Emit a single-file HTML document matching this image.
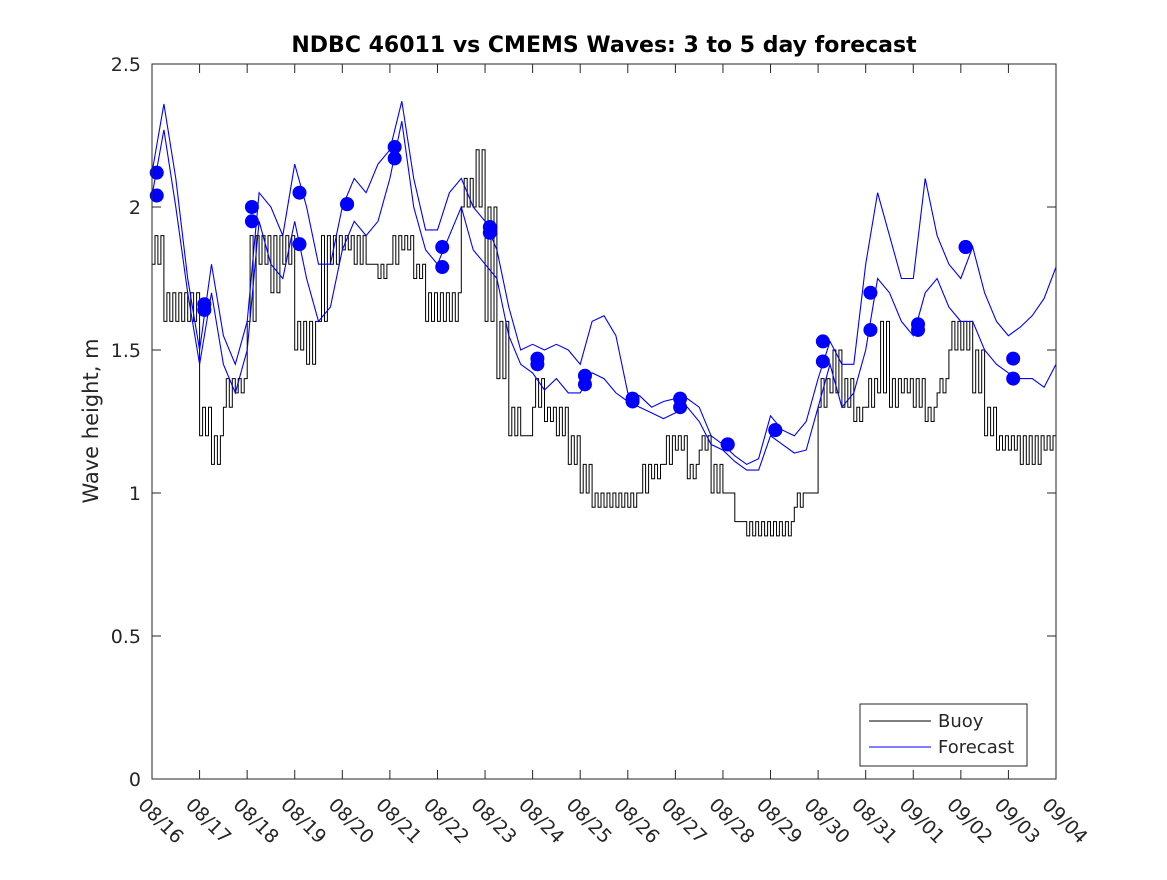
<!DOCTYPE html>
<html><head><meta charset="utf-8"><style>
html,body{margin:0;padding:0;background:#fff;}
svg text{font-family:"DejaVu Sans","Liberation Sans",sans-serif;fill:#262626;}
</style></head><body>
<svg id="chart" width="1167" height="875" viewBox="0 0 1167 875" xmlns="http://www.w3.org/2000/svg">
<rect x="0" y="0" width="1167" height="875" fill="#fff"/>
<text x="604" y="52" text-anchor="middle" font-size="22" font-weight="bold" style="fill:#000">NDBC 46011 vs CMEMS Waves: 3 to 5 day forecast</text>
<text transform="translate(98,421) rotate(-90)" text-anchor="middle" font-size="21">Wave height, m</text>
<g id="plot"></g>
<g id="axes"></g>
<g>
<rect x="860" y="704" width="167" height="62" fill="#fff" stroke="#262626" stroke-width="1"/>
<line x1="869" y1="721" x2="931" y2="721" stroke="#000" stroke-width="1"/>
<text x="938" y="727" font-size="18">Buoy</text>
<line x1="869" y1="747" x2="931" y2="747" stroke="#0000ff" stroke-width="1"/>
<text x="938" y="753" font-size="18">Forecast</text>
</g>
</svg>
<script>
const xTickLabels=["08/16","08/17","08/18","08/19","08/20","08/21","08/22","08/23","08/24","08/25","08/26","08/27","08/28","08/29","08/30","08/31","09/01","09/02","09/03","09/04"];
const yTicks=[0,0.5,1,1.5,2,2.5];
const yTickLabels=["0","0.5","1","1.5","2","2.5"];
// buoy, quarter-day samples starting 08/16 (base and noisy peak)
const buoyValues=[1.8,1.6,1.6,1.6, 1.2,1.1,1.3,1.35, 1.6,1.8,1.7,1.8, 1.5,1.45,1.6,1.8, 1.85,1.8,1.8,1.75, 1.8,1.85,1.75,1.6, 1.6,1.6,2.0,2.0, 1.6,1.4,1.2,1.2, 1.3,1.25,1.2,1.1, 1.0,0.95,0.95,0.95, 0.95,1.0,1.05,1.1, 1.15,1.05,1.15,1.0, 1.0,0.9,0.85,0.85, 0.85,0.85,0.95,1.0, 1.3,1.35,1.3,1.25, 1.3,1.35,1.3,1.35, 1.3,1.25,1.35,1.5, 1.5,1.35,1.2,1.15, 1.15,1.1,1.1,1.15];
const buoyHigh=[1.9,1.7,1.7,1.7, 1.3,1.2,1.4,1.4, 1.9,1.9,1.9,1.9, 1.6,1.6,1.9,1.9, 1.9,1.9,1.8,1.8, 1.9,1.9,1.8,1.7, 1.7,1.7,2.1,2.2, 2.0,1.6,1.3,1.2, 1.4,1.3,1.3,1.2, 1.1,1.0,1.0,1.0, 1.0,1.1,1.1,1.2, 1.2,1.1,1.2,1.1, 1.0,0.9,0.9,0.9, 0.9,0.9,1.0,1.0, 1.4,1.5,1.4,1.3, 1.4,1.6,1.4,1.4, 1.4,1.3,1.4,1.6, 1.6,1.5,1.3,1.2, 1.2,1.2,1.2,1.2];
// forecast, quarter-day samples
const forecastUpper=[2.12,2.36,2.1,1.75,1.5,1.8,1.55,1.45,1.6,2.05,2.0,1.9,2.15,2.0,1.8,1.8,2.0,2.1,2.05,2.15,2.2,2.37,2.1,1.92,1.92,2.05,2.1,2.0,1.95,1.85,1.65,1.5,1.52,1.5,1.52,1.5,1.45,1.6,1.62,1.55,1.35,1.34,1.3,1.32,1.33,1.33,1.3,1.2,1.17,1.13,1.1,1.12,1.27,1.22,1.2,1.25,1.4,1.53,1.45,1.45,1.8,2.05,1.9,1.75,1.75,2.1,1.9,1.8,1.75,1.86,1.7,1.6,1.55,1.58,1.62,1.68,1.79];
const forecastLower=[2.04,2.27,2.0,1.7,1.45,1.7,1.45,1.35,1.5,1.95,1.8,1.75,1.95,1.75,1.6,1.65,1.85,1.95,1.9,1.95,2.1,2.3,2.0,1.85,1.8,1.9,2.0,1.85,1.8,1.75,1.55,1.45,1.42,1.36,1.4,1.35,1.35,1.42,1.4,1.35,1.32,1.3,1.28,1.26,1.28,1.3,1.25,1.17,1.15,1.11,1.08,1.08,1.2,1.17,1.14,1.15,1.3,1.45,1.3,1.35,1.5,1.75,1.7,1.6,1.55,1.7,1.75,1.65,1.6,1.6,1.5,1.45,1.42,1.4,1.4,1.37,1.45];
const dotDays=[0.1,1.1,2.1,3.1,4.1,5.1,6.1,7.1,8.1,9.1,10.1,11.1,12.1,13.1,14.1,15.1,16.1,17.1,18.1];
const dotValuesA=[2.12,1.66,2.0,2.05,2.01,2.21,1.86,1.93,1.47,1.41,1.33,1.33,1.17,1.22,1.53,1.70,1.59,1.86,1.47];
const dotValuesB=[2.04,1.64,1.95,1.87,2.01,2.17,1.79,1.91,1.45,1.38,1.32,1.30,1.17,1.22,1.46,1.57,1.57,1.86,1.40];

const X0=152,X1=1056,Y0=779,Y1=64,NS="http://www.w3.org/2000/svg";
function xs(d){return X0+(X1-X0)*d/19;}
function ys(v){return Y0-(Y0-Y1)*v/2.5;}
const plot=document.getElementById('plot'),axes=document.getElementById('axes');
function mk(tag,attrs,parent){const e=document.createElementNS(NS,tag);for(const k in attrs)e.setAttribute(k,attrs[k]);parent.appendChild(e);return e;}

// buoy noisy step line: within each bin alternate between base and peak
let bp='';
buoyValues.forEach((v,i)=>{
  const h=buoyHigh[i];const n=h>v?4:1;
  for(let k=0;k<n;k++){
    const xa=xs(i*0.25+k*0.25/n),xb=xs(i*0.25+(k+1)*0.25/n);
    const val=(k%2===1)?h:v;
    bp+=((i||k)?'L':'M')+xa.toFixed(1)+','+ys(val).toFixed(1)+'L'+xb.toFixed(1)+','+ys(val).toFixed(1);
  }
});
const buoy=mk('path',{d:bp,fill:'none',stroke:'#000','stroke-width':1},plot);



function fline(arr,name){let p='';arr.forEach((v,i)=>{p+=(i?'L':'M')+xs(i*0.25).toFixed(1)+','+ys(v).toFixed(1);});
const e=mk('path',{d:p,fill:'none',stroke:'#0000ff','stroke-width':1.1},plot);

}
fline(forecastUpper,'forecast-line-upper');
fline(forecastLower,'forecast-line-lower');

dotDays.forEach((d,i)=>{
const a=mk('circle',{cx:xs(d),cy:ys(dotValuesA[i]),r:7,fill:'#0000ff'},plot);


const b=mk('circle',{cx:xs(d),cy:ys(dotValuesB[i]),r:7,fill:'#0000ff'},plot);


});

const box=mk('rect',{x:X0,y:Y1,width:X1-X0,height:Y0-Y1,fill:'none',stroke:'#262626','stroke-width':1},axes);


xTickLabels.forEach((t,i)=>{const x=xs(i);
mk('line',{x1:x,y1:Y0,x2:x,y2:Y0-9,stroke:'#262626'},axes);
mk('line',{x1:x,y1:Y1,x2:x,y2:Y1+9,stroke:'#262626'},axes);
const tx=mk('text',{transform:'translate('+(x-15)+','+(Y0+27)+') rotate(45)','font-size':19},axes);
tx.textContent=t;

});
yTicks.forEach((v,i)=>{const y=ys(v);
mk('line',{x1:X0,y1:y,x2:X0+9,y2:y,stroke:'#262626'},axes);
mk('line',{x1:X1,y1:y,x2:X1-9,y2:y,stroke:'#262626'},axes);
const tx=mk('text',{x:X0-11,y:y+7,'text-anchor':'end','font-size':19},axes);
tx.textContent=yTickLabels[i];

});
</script>
</body></html>
